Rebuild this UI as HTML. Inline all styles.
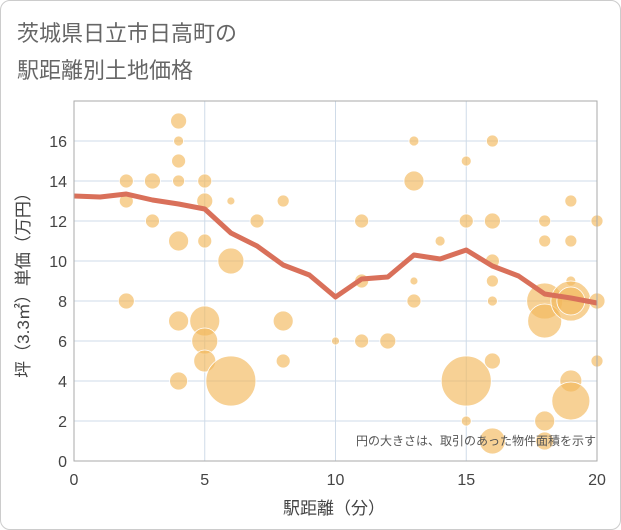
<!DOCTYPE html>
<html><head><meta charset="utf-8"><style>
body{margin:0;background:#fff;font-family:"Liberation Sans","Noto Sans CJK JP",sans-serif}
#c{position:relative;width:619px;height:528px;border:1px solid #ccc;border-radius:10px;overflow:hidden}
</style></head><body>
<div id="c">
<svg width="619" height="528">
<text x="16" y="40" font-size="22" fill="#666">茨城県日立市日高町の</text>
<text x="16" y="77" font-size="22" fill="#666">駅距離別土地価格</text>
<g id="grid"></g><g id="bub"></g><g id="ln"></g><g id="ax"></g>
<text x="595" y="444" font-size="12" fill="#555" text-anchor="end">円の大きさは、取引のあった物件面積を示す</text>
<text x="333" y="513" font-size="17" fill="#444" text-anchor="middle">駅距離（分）</text>
<text transform="translate(28,280) rotate(-90)" font-size="17" fill="#444" text-anchor="middle">坪（3.3㎡）単価（万円）</text>
</svg></div>
<script>
const xTicks=[0,5,10,15,20];
const yTicks=[0,2,4,6,8,10,12,14,16];
const bx=[2,2,2,3,3,4,4,4,4,4,4,4,5,5,5,5,5,5,6,6,6,7,8,8,8,10,11,11,11,12,13,13,13,13,14,15,15,15,15,16,16,16,16,16,16,16,18,18,18,18,18,18,19,19,19,19,19,19,19,20,20,20];
const by=[14,13,8,14,12,17,16,15,14,11,7,4,14,13,11,7,6,5,13,10,4,12,13,7,5,6,12,9,6,6,16,14,9,8,11,15,12,4,2,16,12,10,9,8,5,1,12,11,8,7,2,1,13,11,9,8,8,4,3,12,8,5];
const br=[7,7,8,8,7,8,5,7,6,10,10,9,7,8,7,15,13,11,4,13,25,7,6,10,7,4,7,7,7,8,5,10,4,7,5,5,7,25,5,6,8,7,6,5,8,13,6,6,18,17,10,9,6,6,5,20,14,11,19,6,8,6];
const lx=[0,1,2,3,4,5,6,7,8,9,10,11,12,13,14,15,16,17,18,19,20];
const ly=[13.25,13.2,13.35,13.05,12.85,12.6,11.4,10.75,9.8,9.3,8.2,9.1,9.2,10.3,10.1,10.55,9.75,9.25,8.35,8.15,7.9];
const X0=73,X1=596,Y0=460,Y1=100,YMAX=18;
const sx=v=>X0+(X1-X0)*v/20, sy=v=>Y0-(Y0-Y1)*v/YMAX;
const NS="http://www.w3.org/2000/svg";
function mk(t,a,p){const e=document.createElementNS(NS,t);for(const k in a)e.setAttribute(k,a[k]);p.appendChild(e);return e;}
const g=document.getElementById('grid'),ax=document.getElementById('ax');
yTicks.forEach(v=>{const l=mk('line',{x1:X0,x2:X1,y1:sy(v),y2:sy(v),stroke:'#cfdbe8','stroke-width':1},g);

const t=mk('text',{x:X0-7,y:sy(v)+6,'font-size':16,fill:'#444','text-anchor':'end'},ax);t.textContent=v;
});
xTicks.forEach(v=>{const l=mk('line',{x1:sx(v),x2:sx(v),y1:Y1,y2:Y0,stroke:'#cfdbe8','stroke-width':1},g);

const t=mk('text',{x:sx(v),y:Y0+24,'font-size':16,fill:'#444','text-anchor':'middle'},ax);t.textContent=v;
});
const fr=mk('rect',{x:X0,y:Y1,width:X1-X0,height:Y0-Y1,fill:'none',stroke:'#aaa'},ax);

const bg=document.getElementById('bub');
bx.forEach((v,i)=>{const c=mk('circle',{cx:sx(v),cy:sy(by[i]),r:br[i],fill:'rgba(242,184,92,0.65)',stroke:'#fff','stroke-width':0.8},bg);
});
const p=mk('polyline',{points:lx.map((v,i)=>sx(v)+','+sy(ly[i])).join(' '),fill:'none',stroke:'#d9705a','stroke-width':5,'stroke-linejoin':'round'},document.getElementById('ln'));

</script></body></html>
